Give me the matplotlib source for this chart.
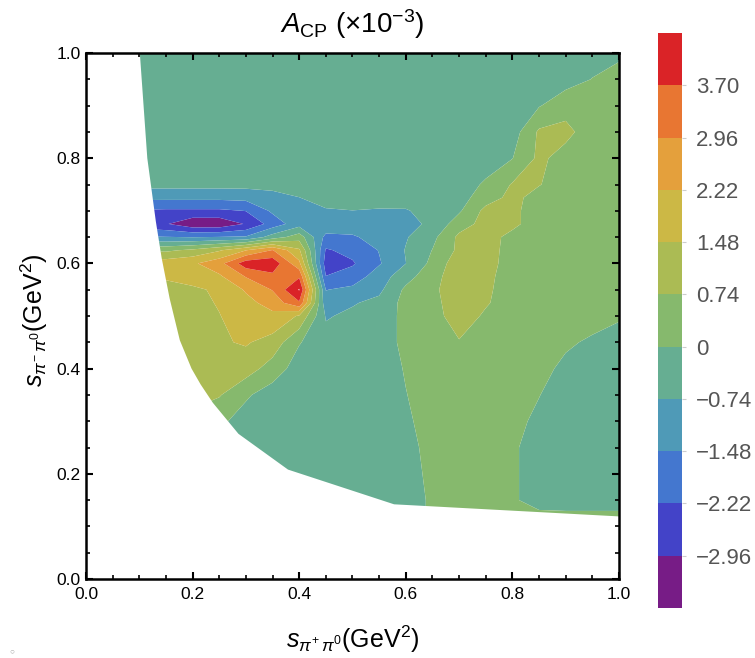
import numpy as np
import matplotlib
matplotlib.use("Agg")
import matplotlib.pyplot as plt
from matplotlib.patches import Polygon
from matplotlib.ticker import MultipleLocator

plt.rcParams['font.family'] = ['Liberation Sans', 'DejaVu Sans']
plt.rcParams['mathtext.fontset'] = 'custom'
plt.rcParams['mathtext.rm'] = 'Liberation Sans'
plt.rcParams['mathtext.it'] = 'Liberation Sans:italic'
plt.rcParams['mathtext.bf'] = 'Liberation Sans:bold'

# sample positions of the A_CP table (GeV^2)
s_plus = [0.10, 0.15, 0.20, 0.25, 0.30, 0.35, 0.40, 0.45, 0.50, 0.55,
          0.60, 0.65, 0.70, 0.75, 0.80, 0.85, 0.90, 0.95, 1.00]
s_minus = [0.10, 0.15, 0.20, 0.25, 0.30, 0.35, 0.40, 0.45, 0.50, 0.525,
           0.55, 0.575, 0.60, 0.625, 0.65, 0.675, 0.70, 0.725, 0.75,
           0.80, 0.85, 0.90, 0.95, 1.00]

# A_CP (x10^-3), one row per s_minus value, columns follow s_plus
acp = [
    [-0.30, -0.30, -0.30, -0.30, -0.30, -0.30, -0.30, -0.30, -0.30, -0.35, -0.30, 0.10, 0.35, 0.35, 0.35, 0.50, 0.50, 0.50, 0.50],
    [-0.30, -0.30, -0.30, -0.30, -0.30, -0.30, -0.30, -0.30, -0.30, -0.35, -0.30, 0.10, 0.35, 0.35, 0.10, -0.30, -0.35, -0.35, -0.35],
    [-0.30, -0.30, -0.30, -0.30, -0.30, -0.30, -0.35, -0.35, -0.35, -0.35, -0.25, 0.15, 0.35, 0.35, 0.10, -0.30, -0.35, -0.35, -0.35],
    [0.20, 0.20, 0.20, 0.10, -0.30, -0.35, -0.35, -0.35, -0.35, -0.35, -0.20, 0.20, 0.35, 0.35, 0.10, -0.30, -0.35, -0.35, -0.35],
    [0.50, 0.50, 0.50, 0.15, -0.30, -0.35, -0.35, -0.35, -0.35, -0.35, -0.10, 0.25, 0.35, 0.35, 0.20, -0.15, -0.35, -0.35, -0.35],
    [1.00, 1.00, 1.00, 0.80, 0.10, -0.35, -0.35, -0.35, -0.35, -0.35, -0.02, 0.30, 0.35, 0.35, 0.30, 0.02, -0.35, -0.35, -0.35],
    [1.10, 1.10, 1.10, 1.20, 1.10, 0.40, -0.35, -0.40, -0.40, -0.35, 0.05, 0.30, 0.40, 0.40, 0.35, 0.20, -0.15, -0.35, -0.35],
    [1.10, 1.10, 1.20, 1.40, 1.55, 1.20, 0.05, -0.50, -0.50, -0.30, 0.15, 0.40, 0.70, 0.60, 0.40, 0.35, 0.10, -0.10, -0.35],
    [1.00, 1.00, 1.10, 1.45, 1.90, 2.05, 1.40, -0.80, -0.60, -0.40, 0.20, 0.50, 1.05, 0.65, 0.45, 0.40, 0.35, 0.25, 0.10],
    [1.10, 1.15, 1.20, 1.55, 2.00, 2.50, 3.60, -1.25, -0.80, -0.55, 0.25, 0.55, 1.10, 0.80, 0.45, 0.40, 0.35, 0.30, 0.30],
    [1.20, 1.30, 1.35, 1.60, 2.30, 3.00, 4.50, -1.50, -1.30, -0.90, 0.15, 0.60, 1.15, 0.85, 0.45, 0.40, 0.35, 0.35, 0.35],
    [1.50, 1.55, 1.80, 2.10, 3.00, 3.50, 3.60, -2.20, -1.90, -1.10, -0.30, 0.50, 1.15, 0.90, 0.45, 0.40, 0.35, 0.35, 0.35],
    [1.90, 1.90, 2.10, 2.70, 4.10, 4.20, 2.40, -2.60, -2.30, -1.55, -0.75, 0.20, 1.20, 1.00, 0.45, 0.40, 0.35, 0.35, 0.35],
    [0.60, 0.60, 0.90, 1.40, 2.20, 3.00, 1.60, -2.30, -2.00, -1.45, -0.70, 0.02, 0.90, 1.00, 0.50, 0.40, 0.35, 0.35, 0.35],
    [-1.40, -1.45, -1.50, -1.45, -1.40, -0.40, 0.40, -1.70, -1.60, -1.10, -0.80, -0.20, 0.90, 1.00, 0.55, 0.40, 0.35, 0.35, 0.35],
    [-2.70, -2.90, -3.50, -3.50, -2.90, -1.90, -1.05, -0.90, -0.95, -0.95, -0.95, -0.60, 0.40, 1.00, 0.90, 0.40, 0.35, 0.35, 0.35],
    [-2.30, -2.35, -2.35, -2.35, -2.20, -1.35, -1.10, -0.80, -0.75, -0.80, -0.80, -0.45, -0.10, 0.95, 0.90, 0.40, 0.35, 0.35, 0.35],
    [-1.30, -1.30, -1.30, -1.30, -1.25, -1.00, -0.75, -0.50, -0.45, -0.45, -0.40, -0.35, -0.30, 0.40, 0.95, 0.45, 0.35, 0.35, 0.35],
    [-0.50, -0.50, -0.50, -0.50, -0.50, -0.50, -0.45, -0.40, -0.35, -0.35, -0.35, -0.35, -0.35, 0.10, 0.80, 0.78, 0.35, 0.35, 0.35],
    [-0.35, -0.35, -0.35, -0.35, -0.35, -0.35, -0.35, -0.35, -0.35, -0.35, -0.35, -0.35, -0.35, -0.35, -0.02, 0.90, 0.45, 0.35, 0.35],
    [-0.35, -0.35, -0.35, -0.35, -0.35, -0.35, -0.35, -0.35, -0.35, -0.35, -0.35, -0.35, -0.35, -0.35, -0.35, 0.85, 0.95, 0.35, 0.35],
    [-0.35, -0.35, -0.35, -0.35, -0.35, -0.35, -0.35, -0.35, -0.35, -0.35, -0.35, -0.35, -0.35, -0.35, -0.35, -0.05, 0.45, 0.30, 0.40],
    [-0.35, -0.35, -0.35, -0.35, -0.35, -0.35, -0.35, -0.35, -0.35, -0.35, -0.35, -0.35, -0.35, -0.35, -0.35, -0.35, -0.30, 0.02, 0.35],
    [-0.35, -0.35, -0.35, -0.35, -0.35, -0.35, -0.35, -0.35, -0.35, -0.35, -0.35, -0.35, -0.35, -0.35, -0.35, -0.35, -0.35, -0.30, -0.18],
]

# edge of the phase space (Dalitz boundary)
edge_x = [0.101, 0.108, 0.115, 0.123, 0.131, 0.142, 0.157, 0.176, 0.198, 0.215,
          0.238, 0.286, 0.379, 0.578, 1.0, 1.0]
edge_y = [1.0, 0.9, 0.8, 0.74, 0.68, 0.61, 0.533, 0.454, 0.40, 0.37,
          0.335, 0.276, 0.208, 0.142, 0.119, 1.0]

levels = [-3.70, -2.96, -2.22, -1.48, -0.74, 0.0, 0.74, 1.48, 2.22, 2.96, 3.70, 4.44]
band_colors = ['#771c86', '#4343c8', '#4477cf', '#4f9ab7', '#66ae92', '#86b96d',
               '#abbb54', '#ccb845', '#e4a03c', '#e87632', '#da2327']
cb_ticks = [-2.96, -2.22, -1.48, -0.74, 0.0, 0.74, 1.48, 2.22, 2.96, 3.70]
cb_labels = ['\u22122.96', '\u22122.22', '\u22121.48', '\u22120.74', '0',
             '0.74', '1.48', '2.22', '2.96', '3.70']

fig = plt.figure(figsize=(7.55, 6.58), dpi=100)
ax = fig.add_axes([86/755, 79/658, 533/755, 526/658])

cs = ax.contourf(s_plus, s_minus, np.array(acp), levels=levels, colors=band_colors,
                 antialiased=True)
region = Polygon(np.column_stack([edge_x, edge_y]), closed=True,
                 transform=ax.transData, facecolor='none', edgecolor='none')
cs.set_clip_path(region)

ax.set_xlim(0, 1)
ax.set_ylim(0, 1)
ax.xaxis.set_major_locator(MultipleLocator(0.2))
ax.yaxis.set_major_locator(MultipleLocator(0.2))
ax.xaxis.set_minor_locator(MultipleLocator(0.05))
ax.yaxis.set_minor_locator(MultipleLocator(0.05))
ax.xaxis.set_major_formatter(lambda v, p: f"{v:.1f}")
ax.yaxis.set_major_formatter(lambda v, p: f"{v:.1f}")
ax.tick_params(which='both', direction='in', top=True, right=True, colors='black',
               labelsize=12.5)
ax.tick_params(which='major', length=5, width=1.5)
ax.tick_params(which='minor', length=3, width=1.2)
ax.tick_params(axis='x', pad=6)
ax.tick_params(axis='y', pad=4)
for sp in ax.spines.values():
    sp.set_linewidth(1.8)

fig.text(352/755, (658 - 33)/658, r'$A_{\mathrm{CP}}$ (×10$^{-3}$)', ha='center',
         va='baseline', fontsize=20)
fig.text(353/755, (658 - 648)/658, r'$s_{\pi^{+}\,\pi^{0}}$(GeV$^{2}$)', ha='center',
         va='baseline', fontsize=18)
fig.text(43/755, (658 - 320)/658, r'$s_{\pi^{-}\,\pi^{0}}$(GeV$^{2}$)', ha='center',
         va='baseline', rotation=90, rotation_mode='anchor', fontsize=18)
fig.text(12/755, 1 - 652/658, '\u25cb', ha='center', va='center', fontsize=6,
         color='#aaaaaa')

cax = fig.add_axes([658/755, 1 - 608/658, 24/755, 575/658])
cb = fig.colorbar(cs, cax=cax, ticks=cb_ticks)
cb.outline.set_visible(False)
cb.ax.set_yticklabels(cb_labels)
cb.ax.tick_params(length=3, width=0.8, color='#cccccc', labelcolor='#555555',
                  labelsize=16, pad=7)

fig.savefig('out.png', dpi=100)
